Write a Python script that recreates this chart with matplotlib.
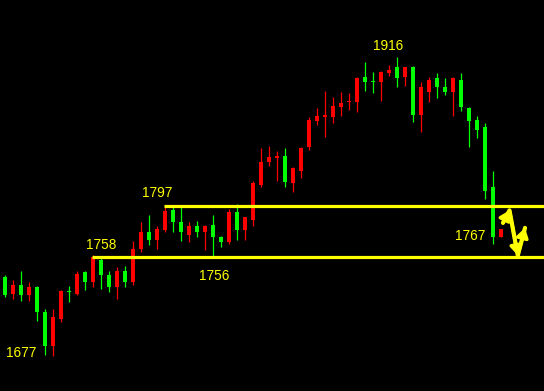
import matplotlib
matplotlib.use("Agg")
import matplotlib.pyplot as plt
from matplotlib import font_manager
from matplotlib.patches import Rectangle

# ---- data (price OHLC per session) ----
opens  = [1740, 1727, 1734, 1726, 1732, 1712, 1685, 1707, 1729, 1727,
          1744, 1736, 1754, 1742, 1732, 1745, 1736, 1763, 1776, 1770,
          1778, 1794, 1784, 1774, 1781, 1776, 1782, 1772, 1768, 1792,
          1778, 1786, 1814, 1832, 1835, 1837, 1815, 1825, 1844, 1865,
          1868, 1868, 1876, 1880, 1880, 1900, 1897, 1896, 1903, 1908,
          1900, 1908, 1870, 1888, 1899, 1892, 1888, 1898, 1875, 1866,
          1860, 1812, 1772]
highs  = [1742, 1738, 1745, 1736, 1733, 1715, 1715, 1730, 1733, 1745,
          1745, 1758, 1757, 1745, 1748, 1749, 1769, 1784, 1790, 1781,
          1797, 1796, 1796, 1784, 1785, 1782, 1790, 1773, 1795, 1799,
          1788, 1817, 1843, 1845, 1841, 1843, 1828, 1844, 1868, 1875,
          1889, 1884, 1888, 1887, 1900, 1912, 1904, 1905, 1910, 1916,
          1908, 1909, 1896, 1900, 1903, 1899, 1900, 1903, 1876, 1869,
          1863, 1825, 1779]
lows   = [1724, 1723, 1721, 1721, 1705, 1678, 1677, 1704, 1720, 1726,
          1730, 1732, 1731, 1728, 1723, 1732, 1734, 1760, 1766, 1763,
          1776, 1776, 1769, 1768, 1772, 1762, 1756, 1764, 1767, 1770,
          1770, 1781, 1812, 1829, 1817, 1812, 1808, 1819, 1842, 1862,
          1852, 1863, 1869, 1874, 1872, 1889, 1887, 1881, 1901, 1892,
          1893, 1864, 1856, 1880, 1883, 1886, 1869, 1873, 1844, 1851,
          1803, 1767, 1772]
closes = [1726, 1734, 1726, 1732, 1712, 1685, 1708, 1729, 1728, 1743,
          1736, 1756, 1742, 1732, 1745, 1736, 1763, 1776, 1770, 1779,
          1793, 1784, 1776, 1781, 1776, 1781, 1772, 1768, 1792, 1778,
          1788, 1815, 1832, 1836, 1837, 1816, 1827, 1843, 1866, 1869,
          1870, 1877, 1879, 1881, 1899, 1896, 1896, 1904, 1906, 1899,
          1908, 1870, 1892, 1898, 1892, 1888, 1899, 1876, 1865, 1858,
          1809, 1772, 1779]

levels = [1797, 1756]          # support / resistance lines
level_start = [20, 11]         # session index where each line starts

# labels: (text, session index, price)
label_texts = ["1916", "1797", "1758", "1756", "1677", "1767"]
label_idx   = [47.9, 19.05, 12.05, 26.1, 2.0, 58.1]
label_price = [1924.6, 1807.4, 1766.0, 1740.8, 1679.2, 1773.4]

UP = "#ff0000"
DOWN = "#00ff00"
YELLOW = "#ffff00"

# font choice
avail = {f.name for f in font_manager.fontManager.ttflist}
if "Liberation Sans Narrow" in avail:
    fam, fsz = "Liberation Sans Narrow", 11.0
else:
    fam, fsz = "Liberation Sans", 9.8

fig = plt.figure(figsize=(5.44, 3.91), dpi=100, facecolor="black")
ax = fig.add_axes([0, 0, 1, 1])
ax.set_facecolor("black")
ax.set_xlim(-0.625, -0.625 + 544 / 8)
ax.set_ylim(1649.1, 1961.7)
ax.axis("off")

bw = 0.62
min_h = 1.3
for i, (o, h, l, c) in enumerate(zip(opens, highs, lows, closes)):
    col = UP if c >= o else DOWN
    ax.vlines(i, l, h, color=col, linewidth=0.9, zorder=2)
    lo = min(o, c)
    hgt = abs(c - o)
    if hgt < min_h:
        lo = (o + c) / 2 - min_h / 2
        hgt = min_h
    ax.add_patch(Rectangle((i - bw / 2, lo), bw, hgt, facecolor=col,
                           edgecolor="none", zorder=3))

xmax = ax.get_xlim()[1]
for lv, st in zip(levels, level_start):
    ax.hlines(lv, st - 0.15, xmax, color=YELLOW, linewidth=2.3, zorder=4)

for t, xi, p in zip(label_texts, label_idx, label_price):
    ax.text(xi, p, t, color=YELLOW, fontsize=fsz, family=fam,
            ha="center", va="center", zorder=5)

# hand-drawn zigzag projection after the last session
n = len(closes)
zz_x = [n - 0.75, n + 0.06, n + 1.1, n + 2.0]
zz_y = [1783.5, 1793.5, 1757.5, 1779.5]
ax.plot(zz_x, zz_y, color=YELLOW, linewidth=3.0,
        solid_joinstyle="round", solid_capstyle="round", zorder=6)
for k in range(1, 4):
    ax.annotate("", xy=(zz_x[k], zz_y[k]), xytext=(zz_x[k - 1], zz_y[k - 1]),
                arrowprops=dict(arrowstyle="-|>,head_length=0.55,head_width=0.35",
                                color=YELLOW, lw=2.4, shrinkA=0, shrinkB=0),
                zorder=6)

fig.savefig("out.png", dpi=100, facecolor="black")
